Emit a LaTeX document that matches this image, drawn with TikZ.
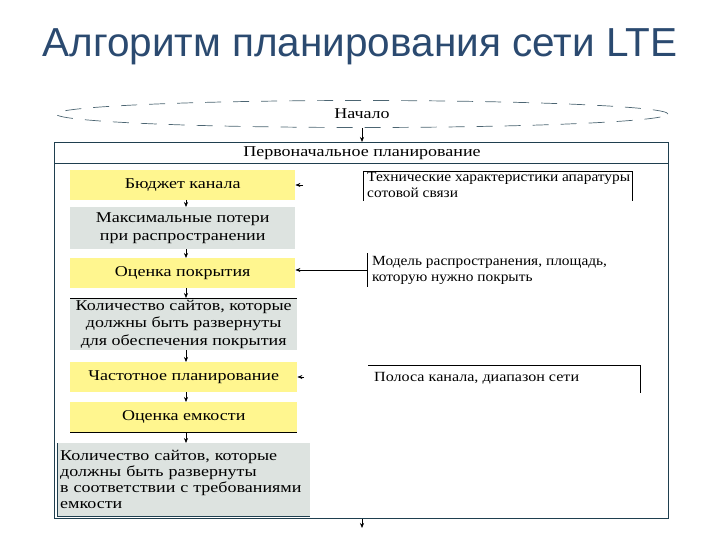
\documentclass[tikz,border=0pt]{standalone}
\usepackage{fontspec}
\setmainfont{Liberation Serif}
\newfontfamily\titlefont{Liberation Sans}
\newfontfamily\wideA[FakeStretch=1.2]{Liberation Serif}
\newfontfamily\wideB[FakeStretch=1.1]{Liberation Serif}
\newfontfamily\wideC[FakeStretch=1.15]{Liberation Serif}
\usetikzlibrary{shapes.geometric,arrows.meta}
\definecolor{ttl}{HTML}{2B4A70}
\definecolor{ylw}{HTML}{FFF68F}
\definecolor{gry}{HTML}{DDE3E0}
\definecolor{frm}{HTML}{1F3F4F}
\tikzset{
  ybox/.style={fill=ylw, draw=none, inner sep=0pt, align=center, font=\wideA\fontsize{15}{17.5}\selectfont},
  gbox/.style={fill=gry, draw=none, inner sep=0pt, align=center, font=\wideA\fontsize{15}{17.5}\selectfont},
  rtext/.style={inner sep=0pt, align=left, anchor=north west},
  arr/.style={-{Stealth[length=5pt,width=4pt]}, line width=0.6pt},
  ln/.style={line width=0.8pt},
}
\begin{document}
\begin{tikzpicture}[x=1pt,y=-1pt]
\useasboundingbox (0,0) rectangle (720,540);
% title
\node[font=\titlefont\fontsize{40.5}{44}\selectfont, text=ttl, inner sep=0pt] (title) at (360,47) {Алгоритм планирования сети LTE};
% start ellipse
\node[ellipse, draw=frm!80, dash pattern=on 16pt off 12pt, line width=0.7pt, minimum width=612, minimum height=27, inner sep=0pt, font=\wideA\fontsize{15}{17}\selectfont] (start) at (362,114) {Начало};
% outer frame
\node[draw=frm, line width=1.3pt, minimum width=614, minimum height=376, inner sep=0pt, anchor=north west, fill=white] (frame) at (54,142) {};
\draw[frm, line width=1pt] (54,164) -- (668,164);
\node[font=\wideA\fontsize{15}{17}\selectfont, inner sep=0pt] (hdr) at (362,153) {Первоначальное планирование};
\draw[arr] (start.south) -- (frame.north -| start.south);
% left column
\node[ybox, minimum width=225, minimum height=30, anchor=north west] (b1) at (70,170) {Бюджет канала};
\node[gbox, minimum width=225, minimum height=42, anchor=north west] (b2) at (70,207) {Максимальные потери\\при распространении};
\node[ybox, minimum width=225, minimum height=30, anchor=north west] (b3) at (70,258) {Оценка покрытия};
\node[gbox, minimum width=227, minimum height=52, anchor=north west] (b4) at (70,298) {Количество сайтов, которые\\должны быть развернуты\\для обеспечения покрытия};
\draw[ln] (b4.north west) -- (b4.north east);
\node[ybox, minimum width=227, minimum height=30, anchor=north west] (b5) at (70,362) {Частотное планирование};
\node[ybox, minimum width=227, minimum height=30, anchor=north west] (b6) at (70,402) {Оценка емкости};
\draw[ln] (b6.south west) -- (b6.south east);
\node[gbox, minimum width=253, minimum height=73, anchor=north west, align=left, text width=247, font=\wideA\fontsize{15}{16}\selectfont] (b7) at (57,443) {Количество сайтов, которые\\должны быть развернуты\\в соответствии с требованиями\\емкости};
\draw[frm, line width=1pt] (b7.north west) -- (b7.south west) -- (b7.south east);
% down arrows
\draw[arr] (186,200) -- (186,207);
\draw[arr] (186,249) -- (186,258);
\draw[arr] (186,288) -- (186,298);
\draw[arr] (186,350) -- (186,362);
\draw[arr] (186,392) -- (186,402);
\draw[arr] (186,432) -- (186,443);
\coordinate (endpt) at (362,528);
\draw[arr] (frame.south -| endpt) -- (endpt);
% right inputs
\node[rtext, font=\wideB\fontsize{14}{16}\selectfont] (r1) at (367,172) {Технические характеристики апаратуры\\сотовой связи};
\draw[ln] (363,201) -- (363,171) -- (632,171) -- (632,201);
\node[rtext, font=\wideB\fontsize{14}{16}\selectfont] (r2) at (372,256) {Модель распространения, площадь,\\которую нужно покрыть};
\draw[ln] (367,253) -- (367,287);
\coordinate (r2in) at (367,270);
\draw[arr] (r2in) -- (r2in -| b3.east);
\node[rtext, font=\wideC\fontsize{14}{16}\selectfont] (r3) at (374,372) {Полоса канала, диапазон сети};
\draw[ln] (368,365) -- (640,365) -- (640,393);
\coordinate (a1) at (303,185);
\draw[arr] (a1) -- (a1 -| b1.east);
\coordinate (a5) at (304,377);
\draw[arr] (a5) -- (a5 -| b5.east);
\end{tikzpicture}
\end{document}
